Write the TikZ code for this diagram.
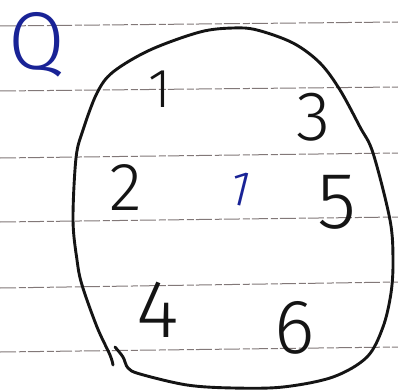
\documentclass[tikz,border=0pt]{standalone}
\usepackage{fontspec}
\IfFontExistsTF{Fira Sans Light}{\newfontfamily\hand{Fira Sans Light}}{%
  \IfFontExistsTF{Open Sans Light}{\newfontfamily\hand{Open Sans Light}}{%
    \IfFontExistsTF{Lato Light}{\newfontfamily\hand{Lato Light}}{\newfontfamily\hand{Fira Sans}}}}
\definecolor{ink}{RGB}{20,20,20}
\definecolor{blueink}{RGB}{25,35,150}
\definecolor{rule}{RGB}{130,120,120}
\begin{document}
\begin{tikzpicture}[x=1pt,y=-1pt,
  ruleline/.style={draw=rule,line width=1pt,dash pattern=on 16pt off 3pt on 7pt off 2pt},
  blob/.style={draw=ink,line width=2.9pt,line cap=round,line join=round},
  digit/.style={anchor=base,inner sep=0pt,text=ink},
  bluemark/.style={anchor=base,inner sep=0pt,text=blueink}]
\useasboundingbox (0,0) rectangle (398,390);
\fill[white] (0,0) rectangle (398,390);
% ruled lines
\coordinate (l1a) at (0,26);  \coordinate (l1b) at (398,22);
\coordinate (l2a) at (0,91);  \coordinate (l2b) at (398,87);
\coordinate (l3a) at (0,158); \coordinate (l3b) at (398,153);
\coordinate (l4a) at (0,222); \coordinate (l4b) at (398,217);
\coordinate (l5a) at (0,288); \coordinate (l5b) at (398,282);
\coordinate (l6a) at (0,352); \coordinate (l6b) at (398,347);
\foreach \i in {1,...,6} \draw[ruleline] (l\i a) -- (l\i b);
% the set outline
\draw[blob] plot[smooth,tension=0.55] coordinates {
 (115,347) (123,357) (128,368) (140,374) (187,385) (233,388) (283,387)
 (333,377) (367,357) (383,327) (391,293) (393,260) (390,220) (373,153)
 (360,127) (340,90) (320,63) (293,43) (257,30) (233,28) (200,32) (150,50)
 (113,72) (97,93) (83,130) (76,158) (73,220) (77,260) (82,285) (97,327)
 (110,355) (113,365)};
% labels
\node[bluemark,font={\hand\fontsize{82}{82}\selectfont}] (q) at (37,70) {Q};
\node[digit,font={\hand\fontsize{55}{55}\selectfont}] (n1) at (160,108) {1};
\node[digit,font={\hand\fontsize{70}{70}\selectfont}] (n3) at (314,140) {3};
\node[digit,font={\hand\fontsize{68}{68}\selectfont}] (n2) at (126,210) {2};
\node[bluemark,rotate=-14,font={\hand\fontsize{50}{50}\selectfont}] (m1) at (237,205) {1};
\node[digit,font={\hand\fontsize{80}{80}\selectfont}] (n5) at (337,228) {5};
\node[digit,font={\hand\fontsize{82}{82}\selectfont}] (n4) at (158,337) {4};
\node[digit,font={\hand\fontsize{77}{77}\selectfont}] (n6) at (295,353) {6};
\end{tikzpicture}
\end{document}
